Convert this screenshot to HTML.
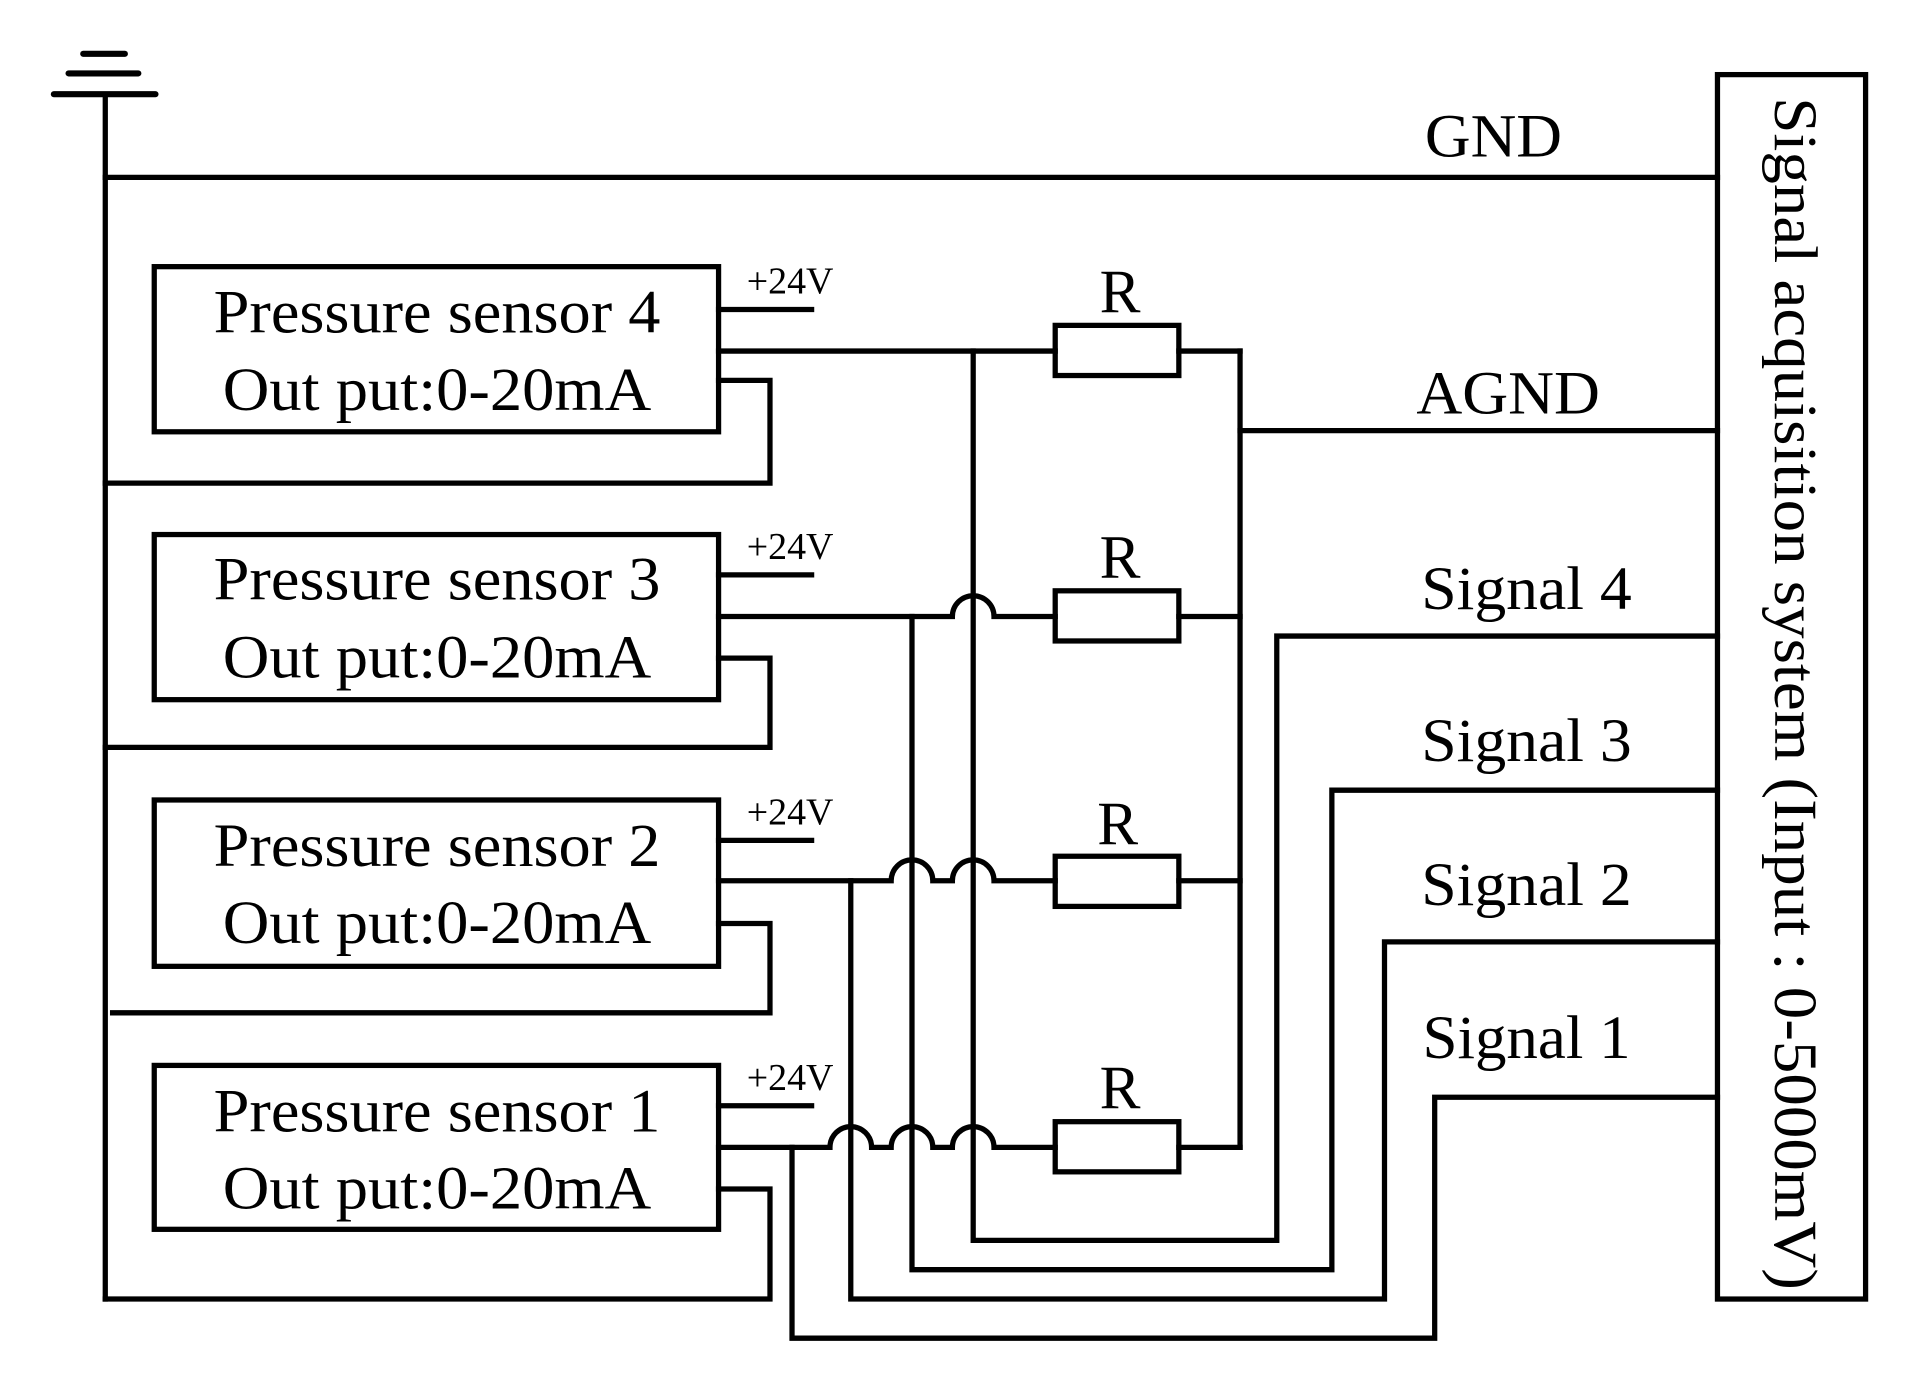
<!DOCTYPE html>
<html><head><meta charset="utf-8"><style>html,body{margin:0;padding:0;background:#fff}svg{display:block}</style></head>
<body>
<svg width="1917" height="1381" viewBox="0 0 1566 1129" preserveAspectRatio="none" xmlns="http://www.w3.org/2000/svg">
<g fill="none" stroke="#000" stroke-width="4.3" stroke-linecap="square">
<line x1="68" y1="44" x2="102" y2="44" stroke-width="5" stroke-linecap="round"/>
<line x1="56" y1="60" x2="113" y2="60" stroke-width="5" stroke-linecap="round"/>
<line x1="44" y1="77" x2="127" y2="77" stroke-width="5" stroke-linecap="round"/>
<line x1="86" y1="77" x2="86" y2="1062"/>
<line x1="86" y1="145" x2="1403" y2="145"/>
<rect x="1403" y="61" width="121" height="1001"/>
<rect x="126" y="218" width="461" height="135"/>
<rect x="126" y="437" width="461" height="135"/>
<rect x="126" y="654" width="461" height="136"/>
<rect x="126" y="871" width="461" height="134"/>
<line x1="587" y1="253" x2="663" y2="253"/>
<line x1="587" y1="470" x2="663" y2="470"/>
<line x1="587" y1="687" x2="663" y2="687"/>
<line x1="587" y1="904" x2="663" y2="904"/>
<polyline points="587,311 629,311 629,395 86,395"/>
<polyline points="587,538 629,538 629,611 86,611"/>
<polyline points="587,755 629,755 629,828 92,828"/>
<polyline points="587,972 629,972 629,1062 86,1062"/>
<line x1="587" y1="287" x2="862" y2="287"/>
<path d="M587,504 H778 A17,17 0 0 1 812,504 H862"/>
<path d="M587,720 H728 A17,17 0 0 1 762,720 H778 A17,17 0 0 1 812,720 H862"/>
<path d="M587,938 H678 A17,17 0 0 1 712,938 H728 A17,17 0 0 1 762,938 H778 A17,17 0 0 1 812,938 H862"/>
<rect x="862" y="266" width="101" height="41"/>
<rect x="862" y="483" width="101" height="41"/>
<rect x="862" y="700" width="101" height="41"/>
<rect x="862" y="917" width="101" height="41"/>
<line x1="963" y1="287" x2="1013" y2="287"/>
<line x1="963" y1="504" x2="1013" y2="504"/>
<line x1="963" y1="720" x2="1013" y2="720"/>
<line x1="963" y1="938" x2="1013" y2="938"/>
<line x1="1013" y1="287" x2="1013" y2="938"/>
<line x1="1013" y1="352" x2="1403" y2="352"/>
<polyline points="795,287 795,1014 1043,1014 1043,520 1403,520"/>
<polyline points="745,504 745,1038 1088,1038 1088,646 1403,646"/>
<polyline points="695,720 695,1062 1131,1062 1131,770 1403,770"/>
<polyline points="647,938 647,1094 1172,1094 1172,897 1403,897"/>
</g>
<g font-family="'Liberation Serif', serif" fill="#000">
<g font-size="50" text-anchor="middle">
<text x="357" y="272" textLength="365" lengthAdjust="spacingAndGlyphs">Pressure sensor 4</text>
<text x="357" y="335" textLength="350" lengthAdjust="spacingAndGlyphs">Out put:0-20mA</text>
<text x="357" y="490" textLength="365" lengthAdjust="spacingAndGlyphs">Pressure sensor 3</text>
<text x="357" y="554" textLength="350" lengthAdjust="spacingAndGlyphs">Out put:0-20mA</text>
<text x="357" y="708" textLength="365" lengthAdjust="spacingAndGlyphs">Pressure sensor 2</text>
<text x="357" y="771" textLength="350" lengthAdjust="spacingAndGlyphs">Out put:0-20mA</text>
<text x="357" y="925" textLength="365" lengthAdjust="spacingAndGlyphs">Pressure sensor 1</text>
<text x="357" y="988" textLength="350" lengthAdjust="spacingAndGlyphs">Out put:0-20mA</text>
<text x="1220" y="128" textLength="112" lengthAdjust="spacingAndGlyphs">GND</text>
<text x="1232" y="338" textLength="150" lengthAdjust="spacingAndGlyphs">AGND</text>
<text x="1247" y="498" textLength="172" lengthAdjust="spacingAndGlyphs">Signal 4</text>
<text x="1247" y="622" textLength="172" lengthAdjust="spacingAndGlyphs">Signal 3</text>
<text x="1247" y="740" textLength="172" lengthAdjust="spacingAndGlyphs">Signal 2</text>
<text x="1247" y="865" textLength="170" lengthAdjust="spacingAndGlyphs">Signal 1</text>
<text x="915" y="255">R</text>
<text x="915" y="472">R</text>
<text x="913" y="690">R</text>
<text x="915" y="906">R</text>
</g>
<g font-size="31">
<text x="610" y="240">+24V</text>
<text x="610" y="457">+24V</text>
<text x="610" y="674">+24V</text>
<text x="610" y="891">+24V</text>
</g>
<text x="0" y="0" font-size="50" text-anchor="middle" transform="translate(1450,567) rotate(90)" textLength="975" lengthAdjust="spacingAndGlyphs">Signal acquisition system (Input : 0-5000mV)</text>
</g>
</svg>
</body></html>
